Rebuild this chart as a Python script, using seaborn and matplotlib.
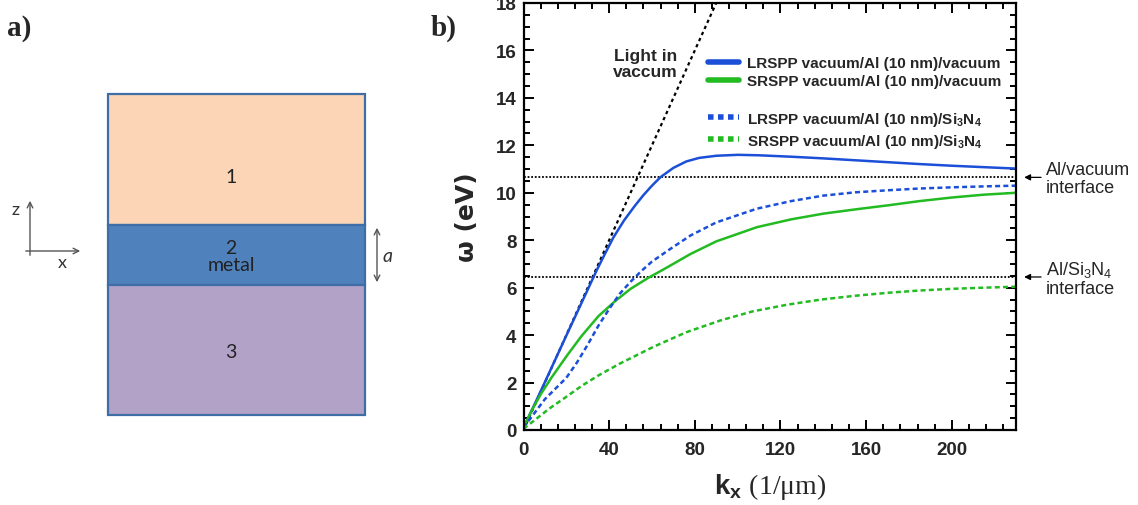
import matplotlib
matplotlib.use('Agg')
import matplotlib.pyplot as plt
from matplotlib.patches import Rectangle
from matplotlib.lines import Line2D
from matplotlib.ticker import MultipleLocator
import seaborn as sns
import pandas as pd

# dispersion curves, k in 1/um, omega in eV
k_lr_vac = [0, 5, 10, 20, 30, 34, 38, 42, 47, 52, 56, 60, 64, 70, 76, 82, 90, 100, 110, 125,
            140, 155, 170, 185, 200, 215, 230]
w_lr_vac = [0.1, 1.05, 2.02, 3.98, 5.92, 6.7, 7.42, 8.12, 8.84, 9.45, 9.9, 10.3, 10.66, 11.05,
            11.32, 11.47, 11.56, 11.6, 11.58, 11.52, 11.45, 11.37, 11.29, 11.21, 11.14, 11.08, 11.02]

k_sr_vac = [0, 4, 8, 13, 20, 27, 35, 43, 50, 58, 66, 78, 90, 109, 125, 140, 155, 171, 185, 200, 215, 230]
w_sr_vac = [0.1, 0.85, 1.5, 2.2, 3.1, 3.95, 4.8, 5.45, 5.95, 6.4, 6.8, 7.42, 7.95, 8.55, 8.88,
            9.12, 9.3, 9.48, 9.65, 9.8, 9.92, 10.0]

k_lr_sin = [0, 5, 10, 15, 20, 25, 30, 35, 40, 45, 50, 55, 60, 68, 78, 90, 109, 125, 140, 155,
            171, 185, 200, 215, 230]
w_lr_sin = [0.1, 0.7, 1.3, 1.75, 2.2, 2.85, 3.6, 4.4, 5.1, 5.75, 6.25, 6.7, 7.1, 7.6, 8.2, 8.75,
            9.33, 9.65, 9.88, 10.02, 10.11, 10.18, 10.23, 10.27, 10.3]

k_sr_sin = [0, 5, 12, 20, 27, 35, 45, 61, 76, 92, 107, 123, 139, 155, 171, 185, 200, 215, 230]
w_sr_sin = [0.05, 0.4, 0.9, 1.4, 1.85, 2.3, 2.8, 3.52, 4.12, 4.62, 5.0, 5.28, 5.5, 5.66, 5.79,
            5.88, 5.95, 6.0, 6.04]

k_light = [0, 90]
w_light = [0, 18]

w_al_vac = 10.65
w_al_sin = 6.45

labels = ['LRSPP vacuum/Al (10 nm)/vacuum',
          'SRSPP vacuum/Al (10 nm)/vacuum',
          r'LRSPP vacuum/Al (10 nm)/Si$_\mathbf{3}$N$_\mathbf{4}$',
          r'SRSPP vacuum/Al (10 nm)/Si$_\mathbf{3}$N$_\mathbf{4}$']

layer_names = ['1', '2\nmetal', '3']

BLUE = '#1c4fd8'
GREEN = '#22bb22'

sns.set_style('ticks')
plt.rcParams['font.family'] = ['Liberation Sans', 'DejaVu Sans']
plt.rcParams['mathtext.fontset'] = 'custom'
plt.rcParams['mathtext.rm'] = 'Liberation Sans'
plt.rcParams['mathtext.bf'] = 'Liberation Sans:bold'
plt.rcParams['mathtext.sf'] = 'Liberation Serif'

fig = plt.figure(figsize=(11.38, 5.06), dpi=100)

# ---- panel a: layer sketch (pixel-like coords)
ax0 = fig.add_axes([0, 0, 420 / 1138, 1])
ax0.set_xlim(0, 420)
ax0.set_ylim(506, 0)
ax0.axis('off')
tops = [95, 226, 286]
bots = [226, 286, 416]
fills = ['#fbd5b5', '#4f81bd', '#b3a2c7']
text_y = [177, 257, 352]
for name, t, b, c, ty in zip(layer_names, tops, bots, fills, text_y):
    ax0.add_patch(Rectangle((108, t), 257, b - t, facecolor=c, edgecolor='#3f6ea6', lw=1.6))
    ax0.text(231, ty, name, ha='center', va='center', fontsize=14,
             family='Lato', color='#222222', linespacing=0.95)
arr = dict(arrowstyle='->', color='#555555', lw=1.0)
ax0.annotate('', xy=(30, 199), xytext=(30, 259), arrowprops=arr)
ax0.annotate('', xy=(83, 252), xytext=(23, 252), arrowprops=arr)
ax0.text(16, 210, 'z', ha='center', va='center', fontsize=13, family='Lato', color='#333333')
ax0.text(62, 263, 'x', ha='center', va='center', fontsize=13, family='Lato', color='#333333')
ax0.annotate('', xy=(377, 226), xytext=(377, 286),
             arrowprops=dict(arrowstyle='<->', color='#555555', lw=1.0))
ax0.text(388, 256, 'a', ha='center', va='center', fontsize=14, style='italic',
         family='Lato', color='#333333')
fig.text(7 / 1138, 1 - 28 / 506, 'a)', fontsize=21, fontweight='bold',
         family='Liberation Serif', va='center', ha='left')
fig.text(431 / 1138, 1 - 28 / 506, 'b)', fontsize=21, fontweight='bold',
         family='Liberation Serif', va='center', ha='left')

# ---- panel b: dispersion
ax = fig.add_axes([523.5 / 1138, 75 / 506, 492.5 / 1138, 427 / 506])

ax.axhline(w_al_vac, color='black', lw=1.3, linestyle=(0, (1, 1)))
ax.axhline(w_al_sin, color='black', lw=1.3, linestyle=(0, (1, 1)))
sns.lineplot(x=k_light, y=w_light, ax=ax, color='black', lw=1.6, linestyle=(0, (1.5, 1.5)))

series = [(k_lr_vac, w_lr_vac, BLUE, '-'),
          (k_sr_vac, w_sr_vac, GREEN, '-'),
          (k_lr_sin, w_lr_sin, BLUE, (0, (2, 1.3))),
          (k_sr_sin, w_sr_sin, GREEN, (0, (2, 1.3)))]
for kk, ww, c, ls in series:
    df = pd.DataFrame({'k': kk, 'w': ww})
    sns.lineplot(data=df, x='k', y='w', ax=ax, color=c, lw=1.8, linestyle=ls)

ax.set_xlim(0, 230)
ax.set_ylim(0, 18)
ax.xaxis.set_major_locator(MultipleLocator(40))
ax.xaxis.set_minor_locator(MultipleLocator(8))
ax.yaxis.set_major_locator(MultipleLocator(2))
ax.yaxis.set_minor_locator(MultipleLocator(0.5))
ax.tick_params(which='both', direction='in', top=True, right=True, width=1.4, color='black')
ax.tick_params(which='major', length=7, labelsize=13.5)
ax.tick_params(axis='x', which='major', pad=8)
ax.tick_params(axis='y', which='major', pad=5)
ax.tick_params(which='minor', length=4)
for lab in ax.get_xticklabels() + ax.get_yticklabels():
    lab.set_fontweight('bold')
for sp in ax.spines.values():
    sp.set_linewidth(1.6)
    sp.set_color('black')

ax.set_xlabel(r'$\mathbf{k_x}$ $\mathsf{(1/μm)}$', fontsize=20, labelpad=9)
ax.set_ylabel('ω (eV)', fontsize=18, fontweight='bold', family='DejaVu Sans', labelpad=12)

handles = [Line2D([], [], color=BLUE, lw=4),
           Line2D([], [], color=GREEN, lw=4),
           Line2D([], [], color='none'),
           Line2D([], [], color=BLUE, lw=4, linestyle=(0, (1, 0.8))),
           Line2D([], [], color=GREEN, lw=4, linestyle=(0, (1, 0.8)))]
leg_labels = [labels[0], labels[1], ' ', labels[2], labels[3]]
leg = ax.legend(handles, leg_labels, loc='upper left', bbox_to_anchor=(0.375, 0.875),
                frameon=False, borderaxespad=0, borderpad=0, handlelength=2.0,
                handletextpad=0.55, labelspacing=0.25, prop={'weight': 'bold', 'size': 11})

ax.text(56.8, 15.45, 'Light in\nvaccum', ha='center', va='center', fontsize=12.5,
        fontweight='bold', linespacing=1.1)

for wv, txt in [(w_al_vac, 'Al/vacuum\ninterface'), (w_al_sin, r'Al/Si$_\mathrm{3}$N$_\mathrm{4}$' + '\ninterface')]:
    ax.annotate('', xy=(232.5, wv), xytext=(243, wv), annotation_clip=False,
                arrowprops=dict(arrowstyle='-|>', color='black', lw=0.9, mutation_scale=9))
    ax.text(244, wv - 0.05, txt, ha='left', va='center', fontsize=13, linespacing=1.1,
            clip_on=False)

fig.savefig('out.png', dpi=100)
